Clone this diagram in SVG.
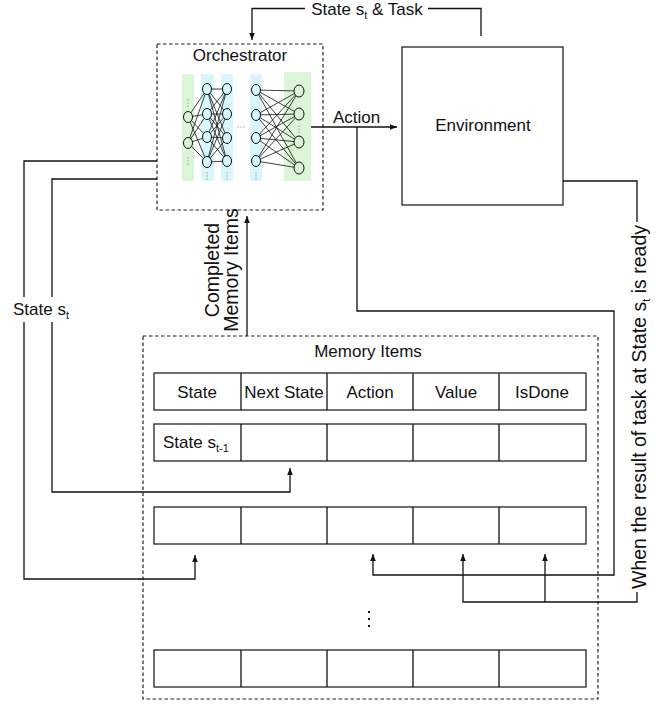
<svg xmlns="http://www.w3.org/2000/svg" width="670" height="707" viewBox="0 0 670 707">
<style>
text{font-family:"Liberation Sans",Arial,Helvetica,sans-serif;font-size:17px;fill:#111}
.rot{font-size:19.5px}
.sub{font-size:11px}
.box{fill:#fff;stroke:#222;stroke-width:1.3}
.dash{fill:#fff;stroke:#222;stroke-width:1.2;stroke-dasharray:3.5 2.5}
.cell{fill:#fff;stroke:#222;stroke-width:1.3}
.wire{fill:none;stroke:#111;stroke-width:1.3}
.nn{fill:none;stroke:#111;stroke-width:0.8}
.g{fill:#dbf6d6}
.c{fill:#d8f6fc}
.ng{fill:#dbf6d6;stroke:#111;stroke-width:1}
.nc{fill:#d8f6fc;stroke:#111;stroke-width:1}
.dot{fill:#9a9a9a}
</style>
<defs>
<marker id="arr" markerUnits="userSpaceOnUse" markerWidth="8" markerHeight="8" viewBox="0 0 8 8" refX="7" refY="4" orient="auto">
<path d="M0 1.2L7 4L0 6.8Z" fill="#111"/>
</marker>
</defs>

<g id="orchestrator">
<rect class="dash" x="157" y="44" width="166" height="166"/>
<text x="240" y="61" text-anchor="middle">Orchestrator</text>
<rect class="g" x="182" y="74" width="12" height="107" rx="1"/>
<rect class="c" x="201" y="74" width="13" height="107" rx="1"/>
<rect class="c" x="221" y="74" width="12" height="107" rx="1"/>
<rect class="c" x="250" y="74" width="12" height="107" rx="1"/>
<rect class="g" x="284" y="72" width="27" height="109" rx="1"/>
<path class="nn" d="M188 117L207 89M188 117L207 114M188 117L207 137M188 117L207 162M188 143L207 89M188 143L207 114M188 143L207 137M188 143L207 162"/>
<path class="nn" d="M207 89L227 89M207 89L227 114M207 89L227 138M207 89L227 161M207 114L227 89M207 114L227 114M207 114L227 138M207 114L227 161M207 137L227 89M207 137L227 114M207 137L227 138M207 137L227 161M207 162L227 89M207 162L227 114M207 162L227 138M207 162L227 161"/>
<path class="nn" d="M256 90L299 91M256 90L299 114M256 90L299 142M256 90L299 168M256 115L299 91M256 115L299 114M256 115L299 142M256 115L299 168M256 138L299 91M256 138L299 114M256 138L299 142M256 138L299 168M256 161L299 91M256 161L299 114M256 161L299 142M256 161L299 168"/>
<ellipse class="ng" cx="188" cy="117" rx="4.5" ry="5.5"/>
<ellipse class="ng" cx="188" cy="143" rx="4.5" ry="5.5"/>
<ellipse class="nc" cx="207" cy="89" rx="4.5" ry="5.5"/>
<ellipse class="nc" cx="207" cy="114" rx="4.5" ry="5.5"/>
<ellipse class="nc" cx="207" cy="137" rx="4.5" ry="5.5"/>
<ellipse class="nc" cx="207" cy="162" rx="4.5" ry="5.5"/>
<ellipse class="nc" cx="227" cy="89" rx="4.5" ry="5.5"/>
<ellipse class="nc" cx="227" cy="114" rx="4.5" ry="5.5"/>
<ellipse class="nc" cx="227" cy="138" rx="4.5" ry="5.5"/>
<ellipse class="nc" cx="227" cy="161" rx="4.5" ry="5.5"/>
<ellipse class="nc" cx="256" cy="90" rx="4.5" ry="5.5"/>
<ellipse class="nc" cx="256" cy="115" rx="4.5" ry="5.5"/>
<ellipse class="nc" cx="256" cy="138" rx="4.5" ry="5.5"/>
<ellipse class="nc" cx="256" cy="161" rx="4.5" ry="5.5"/>
<ellipse class="ng" cx="299" cy="91" rx="5" ry="6"/>
<ellipse class="ng" cx="299" cy="114" rx="5" ry="6"/>
<ellipse class="ng" cx="299" cy="142" rx="5" ry="6"/>
<ellipse class="ng" cx="299" cy="168" rx="5" ry="6"/>
<g class="dot">
<circle cx="188" cy="100" r="0.7"/><circle cx="188" cy="103" r="0.7"/><circle cx="188" cy="106" r="0.7"/>
<circle cx="188" cy="158" r="0.7"/><circle cx="188" cy="161" r="0.7"/><circle cx="188" cy="164" r="0.7"/>
<circle cx="207" cy="173" r="0.7"/><circle cx="207" cy="176" r="0.7"/><circle cx="207" cy="179" r="0.7"/>
<circle cx="227" cy="173" r="0.7"/><circle cx="227" cy="176" r="0.7"/><circle cx="227" cy="179" r="0.7"/>
<circle cx="256" cy="173" r="0.7"/><circle cx="256" cy="176" r="0.7"/><circle cx="256" cy="179" r="0.7"/>
<circle cx="299" cy="126" r="0.7"/><circle cx="299" cy="129" r="0.7"/><circle cx="299" cy="132" r="0.7"/>
<circle cx="238" cy="127" r="0.7"/><circle cx="241" cy="127" r="0.7"/><circle cx="244" cy="127" r="0.7"/>
</g>
</g>

<g id="environment">
<rect class="box" x="402" y="47" width="161" height="158"/>
<text x="483" y="131" text-anchor="middle">Environment</text>
</g>

<g id="memory">
<rect class="dash" x="143" y="336" width="455" height="363"/>
<text x="368" y="357" text-anchor="middle">Memory Items</text>
<g id="row-header">
<rect class="cell" x="154" y="373" width="432" height="37"/>
<path class="wire" d="M241 373V410M327 373V410M413 373V410M499 373V410"/>
<text x="197" y="398" text-anchor="middle">State</text>
<text x="284" y="398" text-anchor="middle">Next State</text>
<text x="370" y="398" text-anchor="middle">Action</text>
<text x="456" y="398" text-anchor="middle">Value</text>
<text x="542" y="398" text-anchor="middle">IsDone</text>
</g>
<g id="row-1">
<rect class="cell" x="154" y="424" width="432" height="37"/>
<path class="wire" d="M241 424V461M327 424V461M413 424V461M499 424V461"/>
<text x="163" y="448">State s<tspan class="sub" dy="4">t-1</tspan></text>
</g>
<g id="row-2">
<rect class="cell" x="154" y="507" width="432" height="37"/>
<path class="wire" d="M241 507V544M327 507V544M413 507V544M499 507V544"/>
</g>
<g id="ellipsis">
<rect x="368" y="611" width="2" height="2" fill="#111"/>
<rect x="368" y="618" width="2" height="2" fill="#111"/>
<rect x="368" y="625" width="2" height="2" fill="#111"/>
</g>
<g id="row-last">
<rect class="cell" x="154" y="650" width="432" height="37"/>
<path class="wire" d="M241 650V687M327 650V687M413 650V687M499 650V687"/>
</g>
</g>

<g id="connectors">
<path class="wire" d="M481 36V8.5H428"/>
<path class="wire" d="M305 8.5H252V40" marker-end="url(#arr)"/>
<text x="367" y="15" text-anchor="middle">State s<tspan class="sub" dy="4">t</tspan><tspan dy="-4"> &amp; Task</tspan></text>
<path class="wire" d="M311 127H397" marker-end="url(#arr)"/>
<text x="333" y="123">Action</text>
<path class="wire" d="M357 127V311H614V575H373V554" marker-end="url(#arr)"/>
<path class="wire" d="M563 181H637V222"/>
<path class="wire" d="M637 592V602H463V554" marker-end="url(#arr)"/>
<path class="wire" d="M545 602V554" marker-end="url(#arr)"/>
<text class="rot" transform="translate(646 407) rotate(-90)" text-anchor="middle">When the result of task at State s<tspan class="sub" dy="4">t</tspan><tspan dy="-4"> is ready</tspan></text>
<path class="wire" d="M247 336V216" marker-end="url(#arr)"/>
<text class="rot" transform="translate(219 270) rotate(-90)" text-anchor="middle">Completed</text>
<text class="rot" transform="translate(238 270) rotate(-90)" text-anchor="middle">Memory Items</text>
<path class="wire" d="M157 161H24V297"/>
<path class="wire" d="M24 322V579H195V555" marker-end="url(#arr)"/>
<path class="wire" d="M157 179H52V297"/>
<path class="wire" d="M52 322V492H290V468" marker-end="url(#arr)"/>
<text x="13" y="315">State s<tspan class="sub" dy="4">t</tspan></text>
</g>
</svg>
